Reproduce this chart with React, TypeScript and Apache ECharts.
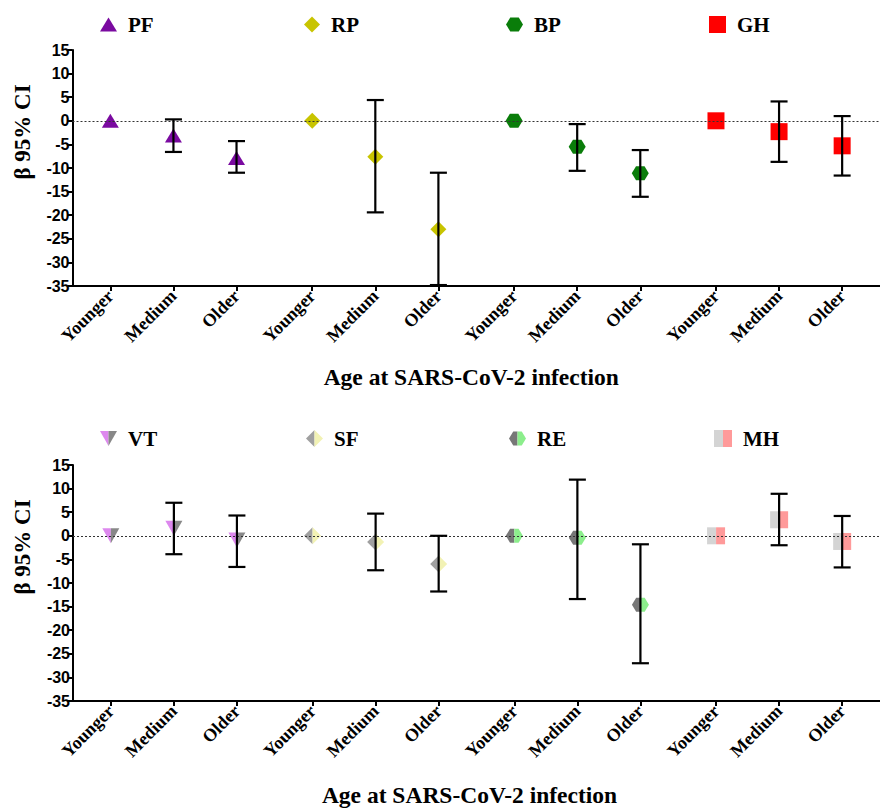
import React, { useEffect, useRef } from 'react';
import * as echarts from 'echarts';

// ---------- data ----------
const ageLabels = ['Younger', 'Medium', 'Older'];
const topGroups = ['PF', 'RP', 'BP', 'GH'];
const bottomGroups = ['VT', 'SF', 'RE', 'MH'];
const yTicks = { min: -35, max: 15, step: 5 };

// estimates for [Younger, Medium, Older]
const pfBeta = [0, -3.1, -7.9];
const pfLow = [null, -6.6, -11.0];
const pfHigh = [null, 0.3, -4.3];

const rpBeta = [0, -7.6, -23.0];
const rpLow = [null, -19.4, -34.8];
const rpHigh = [null, 4.4, -11.0];

const bpBeta = [0, -5.5, -11.1];
const bpLow = [null, -10.6, -16.1];
const bpHigh = [null, -0.7, -6.2];

const ghBeta = [0, -2.3, -5.3];
const ghLow = [null, -8.7, -11.6];
const ghHigh = [null, 4.1, 1.0];

const vtBeta = [0, 1.6, -0.9];
const vtLow = [null, -3.9, -6.6];
const vtHigh = [null, 7.0, 4.3];

const sfBeta = [0, -1.3, -6.0];
const sfLow = [null, -7.3, -11.8];
const sfHigh = [null, 4.7, 0.0];

const reBeta = [0, -0.4, -14.6];
const reLow = [null, -13.4, -27.0];
const reHigh = [null, 11.9, -1.8];

const mhBeta = [0, 3.4, -1.2];
const mhLow = [null, -2.0, -6.7];
const mhHigh = [null, 8.9, 4.2];

// ---------- layout helpers ----------
const posOf = (g: number, i: number) => g * 16 + i * 5;
const tickPositions: number[] = [];
const tickLabels: string[] = [];
for (let g = 0; g < 4; g++) {
  for (let i = 0; i < 3; i++) {
    tickPositions.push(posOf(g, i));
    tickLabels.push(ageLabels[i]);
  }
}

const pts = (g: number, beta: number[]) => beta.map((v, i) => [posOf(g, i), v]);
const bars = (g: number, low: (number | null)[], high: (number | null)[]) => {
  const out: number[][] = [];
  low.forEach((l, i) => {
    const h = high[i];
    if (l != null && h != null) out.push([posOf(g, i), l, h]);
  });
  return out;
};

// symbol paths (pixel units, aspect built in)
const P = {
  triUp: 'path://M8.5,0 L17,14 L0,14 Z',
  diamond: 'path://M8,0 L16,8 L8,16 L0,8 Z',
  hex: 'path://M0,7 L4.25,0 L12.75,0 L17,7 L12.75,14 L4.25,14 Z',
  square: 'path://M0,0 L17,0 L17,17 L0,17 Z',
  triDownL: 'path://M0,0 L8.5,0 L8.5,15 Z',
  triDownR: 'path://M8.5,0 L17,0 L8.5,15 Z',
  diaL: 'path://M8.5,0 L8.5,17 L0,8.5 Z',
  diaR: 'path://M8.5,0 L17,8.5 L8.5,17 Z',
  hexL: 'path://M8.5,0 L4.25,0 L0,7 L4.25,14 L8.5,14 Z',
  hexR: 'path://M8.5,0 L12.75,0 L17,7 L12.75,14 L8.5,14 Z',
  sqL: 'path://M0,0 L9,0 L9,17 L0,17 Z',
  sqR: 'path://M9,0 L18,0 L18,17 L9,17 Z',
};

const serif = "'Liberation Serif', 'Times New Roman', 'DejaVu Serif', serif";
const sans = "'Liberation Sans', Arial, sans-serif";

function makeX(gridIndex: number, nameGap: number, padRight: number) {
  return {
    type: 'value',
    gridIndex,
    min: -3,
    max: 61,
    axisLine: { show: true, onZero: false, lineStyle: { color: '#000', width: 2 } },
    axisTick: { show: true, customValues: tickPositions, length: 5, lineStyle: { color: '#000', width: 2 } },
    axisLabel: {
      show: true,
      customValues: tickPositions,
      rotate: 45,
      margin: 7,
      color: '#000',
      fontFamily: serif,
      fontWeight: 'bold',
      fontSize: 18,
      formatter: (v: number) => {
        const k = tickPositions.indexOf(Math.round(v));
        return k >= 0 ? tickLabels[k] : '';
      },
    },
    splitLine: { show: false },
    name: 'Age at SARS-CoV-2 infection',
    nameLocation: 'middle',
    nameGap,
    nameTextStyle: {
      color: '#000',
      fontFamily: serif,
      fontWeight: 'bold',
      fontSize: 23.5,
      padding: [0, padRight, 0, 0],
    },
  };
}

function makeY(gridIndex: number) {
  return {
    type: 'value',
    gridIndex,
    min: yTicks.min,
    max: yTicks.max,
    interval: yTicks.step,
    axisLine: { show: true, onZero: false, lineStyle: { color: '#000', width: 2 } },
    axisTick: { show: true, length: 5, lineStyle: { color: '#000', width: 2 } },
    axisLabel: { color: '#000', fontFamily: sans, fontWeight: 'bold', fontSize: 16, margin: 3 },
    splitLine: { show: false },
  };
}

function scatter(name: string, axis: number, data: number[][], symbol: string, size: number[], color: string, offset?: number[]) {
  return {
    type: 'scatter',
    name,
    xAxisIndex: axis,
    yAxisIndex: axis,
    data,
    symbol,
    symbolSize: size,
    symbolOffset: offset || [0, 0],
    itemStyle: { color, opacity: 1 },
    z: 3,
    silent: true,
  };
}

function errSeries(axis: number, data: number[][]) {
  return {
    type: 'custom',
    xAxisIndex: axis,
    yAxisIndex: axis,
    data,
    encode: { x: 0, y: [1, 2] },
    z: 5,
    silent: true,
    renderItem: (_p: any, api: any) => {
      const x = api.value(0);
      const lo = api.coord([x, api.value(1)]);
      const hi = api.coord([x, api.value(2)]);
      const half = 8.5;
      const st = { stroke: '#000', lineWidth: 2.2 };
      return {
        type: 'group',
        children: [
          { type: 'line', shape: { x1: lo[0], y1: lo[1], x2: hi[0], y2: hi[1] }, style: st },
          { type: 'line', shape: { x1: lo[0] - half, y1: lo[1], x2: lo[0] + half, y2: lo[1] }, style: st },
          { type: 'line', shape: { x1: hi[0] - half, y1: hi[1], x2: hi[0] + half, y2: hi[1] }, style: st },
        ],
      };
    },
  };
}

function zeroLine(axis: number) {
  return {
    type: 'scatter',
    xAxisIndex: axis,
    yAxisIndex: axis,
    data: [],
    z: 1,
    silent: true,
    markLine: {
      silent: true,
      symbol: 'none',
      label: { show: false },
      lineStyle: { color: '#333', width: 1, type: [2, 2] },
      data: [{ yAxis: 0 }],
    },
  };
}

const legendText = { color: '#000', fontFamily: serif, fontWeight: 'bold', fontSize: 21 };

// left = left edge of the drawn icon, top = icon centre - half text height (10.5)
function legendItem(name: string, icon: string, color: string, left: number, centerY: number, w: number, h: number, withText: boolean) {
  return {
    show: true,
    left,
    top: centerY - 10.5,
    padding: 0,
    orient: 'horizontal',
    itemWidth: w,
    itemHeight: h,
    selectedMode: false,
    symbolKeepAspect: true,
    textStyle: legendText,
    formatter: withText ? '{name}' : () => ' ',
    data: [{ name, icon, itemStyle: { color, borderWidth: 0 } }],
  };
}

const C = {
  pf: '#7a0aa0',
  rp: '#c8c400',
  bp: '#0a7d0a',
  gh: '#ff0000',
  vtL: '#dd88ee',
  vtR: '#888888',
  sfL: '#a0a0a0',
  sfR: '#f2f2b4',
  reL: '#777777',
  reR: '#8cee8c',
  mhL: '#d4d4d4',
  mhR: '#ff9a9a',
};

export default function App() {
  const ref = useRef<HTMLDivElement>(null);
  useEffect(() => {
    if (!ref.current) return;
    const chart = echarts.init(ref.current, undefined, { renderer: 'svg' });
    const option: any = {
      animation: false,
      backgroundColor: '#fff',
      grid: [
        { left: 72.5, top: 50, width: 810, height: 236 },
        { left: 73, top: 465, width: 815, height: 238 },
      ],
      xAxis: [makeX(0, 79, 10), makeX(1, 82, 14)],
      yAxis: [makeY(0), makeY(1)],
      legend: [
        legendItem(topGroups[0], P.triUp, C.pf, 100, 24.5, 29, 14, true),
        legendItem(topGroups[1], P.diamond, C.rp, 304, 24.5, 28, 16, true),
        legendItem(topGroups[2], P.hex, C.bp, 506, 24.5, 29, 14, true),
        legendItem(topGroups[3], P.square, C.gh, 709, 24.5, 29, 17, true),

        legendItem(bottomGroups[0], P.triDownL, C.vtL, 100, 438.5, 8.5, 15, false),
        legendItem(bottomGroups[0], P.triDownR, C.vtR, 108.5, 438.5, 20.5, 15, true),
        legendItem(bottomGroups[1], P.diaL, C.sfL, 306, 438.5, 8.5, 17, false),
        legendItem(bottomGroups[1], P.diaR, C.sfR, 314.5, 438.5, 20.5, 17, true),
        legendItem(bottomGroups[2], P.hexL, C.reL, 509, 438.5, 8.5, 14, false),
        legendItem(bottomGroups[2], P.hexR, C.reR, 517.5, 438.5, 20.5, 14, true),
        legendItem(bottomGroups[3], P.sqL, C.mhL, 714, 438.5, 9, 17, false),
        legendItem(bottomGroups[3], P.sqR, C.mhR, 723, 438.5, 21, 17, true),
      ],
      graphic: [
        {
          type: 'text',
          x: 22,
          y: 132,
          rotation: Math.PI / 2,
          style: { text: 'β 95% CI', fill: '#000', font: `bold 23px ${serif}`, align: 'center', verticalAlign: 'middle' },
        },
        {
          type: 'text',
          x: 22,
          y: 547,
          rotation: Math.PI / 2,
          style: { text: 'β 95% CI', fill: '#000', font: `bold 23px ${serif}`, align: 'center', verticalAlign: 'middle' },
        },
      ],
      series: [
        zeroLine(0),
        zeroLine(1),
        scatter(topGroups[0], 0, pts(0, pfBeta), P.triUp, [17, 14], C.pf),
        scatter(topGroups[1], 0, pts(1, rpBeta), P.diamond, [16, 16], C.rp),
        scatter(topGroups[2], 0, pts(2, bpBeta), P.hex, [17, 14], C.bp),
        scatter(topGroups[3], 0, pts(3, ghBeta), P.square, [17, 17], C.gh),
        errSeries(0, bars(0, pfLow, pfHigh)),
        errSeries(0, bars(1, rpLow, rpHigh)),
        errSeries(0, bars(2, bpLow, bpHigh)),
        errSeries(0, bars(3, ghLow, ghHigh)),

        scatter(bottomGroups[0], 1, pts(0, vtBeta), P.triDownL, [8.5, 15], C.vtL, [-4.25, 0]),
        scatter(bottomGroups[0], 1, pts(0, vtBeta), P.triDownR, [8.5, 15], C.vtR, [4.25, 0]),
        scatter(bottomGroups[1], 1, pts(1, sfBeta), P.diaL, [8.5, 17], C.sfL, [-4.25, 0]),
        scatter(bottomGroups[1], 1, pts(1, sfBeta), P.diaR, [8.5, 17], C.sfR, [4.25, 0]),
        scatter(bottomGroups[2], 1, pts(2, reBeta), P.hexL, [8.5, 14], C.reL, [-4.25, 0]),
        scatter(bottomGroups[2], 1, pts(2, reBeta), P.hexR, [8.5, 14], C.reR, [4.25, 0]),
        scatter(bottomGroups[3], 1, pts(3, mhBeta), P.sqL, [9, 17], C.mhL, [-4.5, 0]),
        scatter(bottomGroups[3], 1, pts(3, mhBeta), P.sqR, [9, 17], C.mhR, [4.5, 0]),
        errSeries(1, bars(0, vtLow, vtHigh)),
        errSeries(1, bars(1, sfLow, sfHigh)),
        errSeries(1, bars(2, reLow, reHigh)),
        errSeries(1, bars(3, mhLow, mhHigh)),
      ],
    };
    chart.setOption(option);
    return () => chart.dispose();
  }, []);
  return (
    <div
      ref={ref}
      style={{ position: 'absolute', left: 0, top: 0, width: 880, height: 808, background: '#fff' }}
    />
  );
}
